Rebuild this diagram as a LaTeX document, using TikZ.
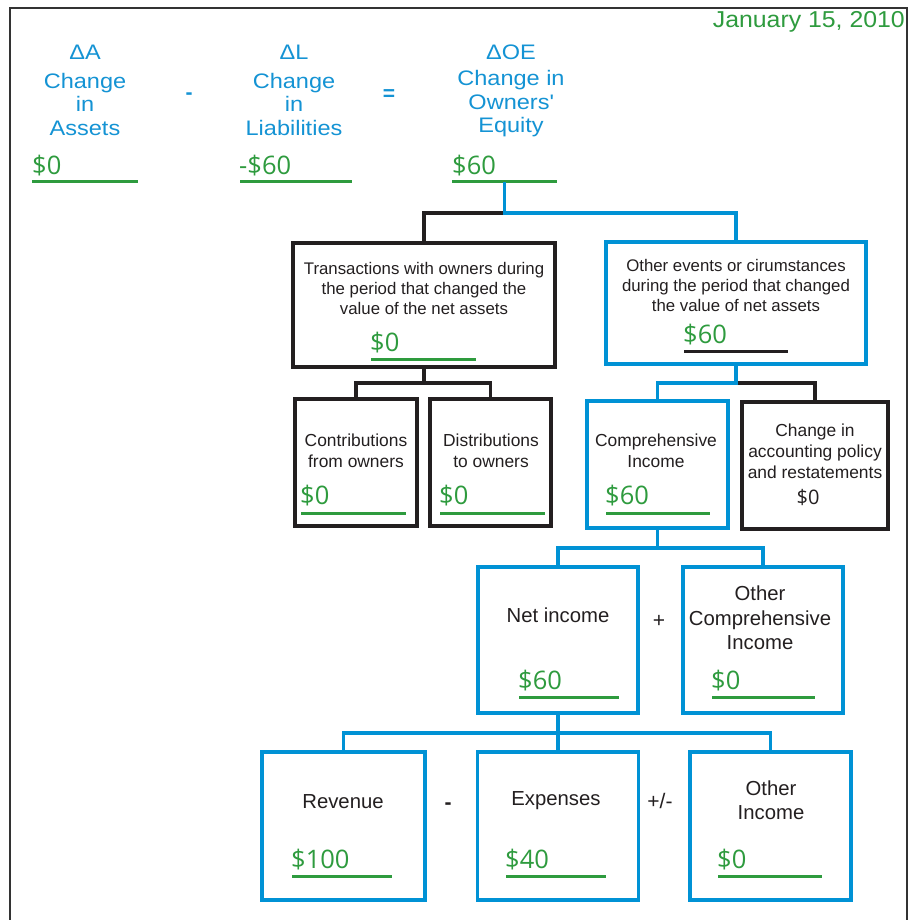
\documentclass[tikz,border=0pt]{standalone}
\usepackage{fontspec}
\setmainfont{Liberation Sans}
\newfontfamily\numfont{Open Sans}
\newfontfamily\headfont{Liberation Sans}[FakeStretch=1.12]
\newfontfamily\datefont{Liberation Sans}[FakeStretch=1.08]
\definecolor{cblue}{HTML}{0092D5}
\definecolor{tblue}{HTML}{1493D4}
\definecolor{cgreen}{HTML}{2E9B3E}
\definecolor{cdark}{HTML}{231F20}
\definecolor{cframe}{HTML}{333333}
\begin{document}
\begin{tikzpicture}[x=1pt,y=-1pt,
  bluebox/.style={draw=cblue,line width=3.5pt,inner sep=0pt,minimum width=#1},
  blackbox/.style={draw=cdark,line width=3.5pt,inner sep=0pt,minimum width=#1},
  bline/.style={draw=cblue,line width=3.5pt},
  kline/.style={draw=cdark,line width=3.5pt},
  gul/.style={draw=cgreen,line width=3pt},
  kul/.style={draw=cdark,line width=3pt},
  head/.style={text=tblue,font=\headfont\fontsize{21}{23.5}\selectfont,align=center,inner sep=0pt},
  op/.style={font=\fontsize{21}{23.5}\selectfont,inner sep=0pt},
  num/.style={text=cgreen,font=\numfont\fontsize{25.5}{28}\selectfont,inner sep=0pt,anchor=west},
  small/.style={text=cdark,font=\fontsize{16.8}{20}\selectfont,align=center,inner sep=0pt},
  cbox/.style={text=cdark,font=\fontsize{17.4}{21}\selectfont,align=center,inner sep=0pt},
  mid/.style={text=cdark,font=\fontsize{20.3}{24.5}\selectfont,align=center,inner sep=0pt}
]
\useasboundingbox (0,0) rectangle (911,920);
\fill[white] (0,0) rectangle (911,920);
% frame
\draw[cframe,line width=2pt] (10,930) -- (10,8) -- (907,8) -- (907,930);
\node[text=cgreen,font=\datefont\fontsize{23}{26}\selectfont,anchor=east,inner sep=0pt] (date) at (905,22) {January 15, 2010};

% header
\node[head] (dA) at (85,52) {ΔA};
\node[head] (tA) at (85,104) {Change\\in\\Assets};
\node[op,text=tblue,font=\bfseries\fontsize{21}{23.5}\selectfont] (minus1) at (189,96) {-};
\node[head] (dL) at (294,52) {ΔL};
\node[head] (tL) at (294,104) {Change\\in\\Liabilities};
\node[op,text=tblue,font=\bfseries\fontsize{21}{23.5}\selectfont] (eq) at (389,95) {=};
\node[head] (dOE) at (511,52) {ΔOE};
\node[head] (tOE) at (511,104) {Change in\\Owners\textquotesingle\\Equity};

\node[num] (vA) at (32,166) {\$0};
\node[num] (vL) at (239,166) {-\$60};
\node[num] (vOE) at (452,166) {\$60};
\draw[gul] (32,182) -- (138,182);
\draw[gul] (240,182) -- (352,182);
\draw[gul] (452,182) -- (557,182);
\coordinate (oe) at (504.5,182);

% boxes
\node[blackbox=262pt,minimum height=124pt] (b1) at (424,305) {};
\node[bluebox=260pt,minimum height=122pt] (b2) at (736,303) {};
\node[blackbox=122pt,minimum height=127pt] (c1) at (356,462.5) {};
\node[blackbox=121pt,minimum height=127pt] (c2) at (490.5,462.5) {};
\node[bluebox=141pt,minimum height=127pt] (c3) at (657.5,464.5) {};
\node[blackbox=146pt,minimum height=127pt] (c4) at (815,465.5) {};
\node[bluebox=160pt,minimum height=146pt] (n1) at (558,640) {};
\node[bluebox=160pt,minimum height=146pt] (n2) at (763,640) {};
\node[bluebox=163pt,minimum height=148pt] (r1) at (343.5,826) {};
\node[bluebox=161pt,minimum height=148pt] (r2) at (558,826) {};
\node[bluebox=161pt,minimum height=148pt] (r3) at (770.5,826) {};

% connectors
\coordinate (j1) at (oe |- 0,213);
\draw[kline] (j1) -| (b1.north);
\draw[bline] (oe) -- (j1) -| (b2.north);
\coordinate (j2) at (b1.south |- 0,383);
\draw[kline] (b1.south) -- (j2);
\draw[kline] (c1.north) |- (j2) -| (c2.north);
\coordinate (j3) at (b2.south |- 0,383);
\draw[kline] (j3) -| (c4.north);
\draw[bline] (b2.south) -- (j3) -| (c3.north);
\coordinate (j4) at (c3.south |- 0,548);
\draw[bline] (c3.south) -- (j4);
\draw[bline] (n1.north) |- (j4) -| (n2.north);
\coordinate (j5) at (n1.south |- 0,733);
\draw[bline] (n1.south) -- (r2.north);
\draw[bline] (r1.north) |- (j5) -| (r3.north);

% box texts
\node[small] (t1) at (424,288) {Transactions with owners during\\the period that changed the\\value of the net assets};
\node[num] (v1) at (370,343) {\$0};
\draw[gul] (371,359) -- (476,359);

\node[small] (t2) at (736,285) {Other events or cirumstances\\during the period that changed\\the value of net assets};
\node[num] (v2) at (683,335) {\$60};
\draw[kul] (684,351) -- (788,351);

\node[cbox] (tc1) at (356,450.5) {Contributions\\from owners};
\node[num] (vc1) at (300,496) {\$0};
\draw[gul] (301,513) -- (406,513);

\node[cbox] (tc2) at (491,450.5) {Distributions\\to owners};
\node[num] (vc2) at (439,496) {\$0};
\draw[gul] (440,513) -- (545,513);

\node[cbox] (tc3) at (656,450.5) {Comprehensive\\Income};
\node[num] (vc3) at (605,496) {\$60};
\draw[gul] (606,513) -- (710,513);

\node[cbox] (tc4) at (815,451) {Change in\\accounting policy\\and restatements};
\node[num,text=cdark,font=\numfont\fontsize{20}{24}\selectfont,anchor=center] (vc4) at (808,497) {\$0};

\node[mid] (tn1) at (558,615) {Net income};
\node[op,text=cdark] (plus) at (659,621) {+};
\node[mid] (tn2) at (760,618) {Other\\Comprehensive\\Income};
\node[num] (vn1) at (518,681) {\$60};
\draw[gul] (519,697) -- (619,697);
\node[num] (vn2) at (711,681) {\$0};
\draw[gul] (712,697) -- (815,697);

\node[mid] (tr1) at (343,802) {Revenue};
\node[op,text=cdark,font=\bfseries\fontsize{21}{23.5}\selectfont] (minus2) at (448,806) {-};
\node[mid] (tr2) at (556,801) {Expenses};
\node[op,text=cdark] (pm) at (660,801) {+/-};
\node[mid] (tr3) at (771,800) {Other\\Income};
\node[num] (vr1) at (291,860) {\$100};
\draw[gul] (292,876) -- (392,876);
\node[num] (vr2) at (505,860) {\$40};
\draw[gul] (506,876) -- (606,876);
\node[num] (vr3) at (717,860) {\$0};
\draw[gul] (718,876) -- (822,876);
\end{tikzpicture}
\end{document}
